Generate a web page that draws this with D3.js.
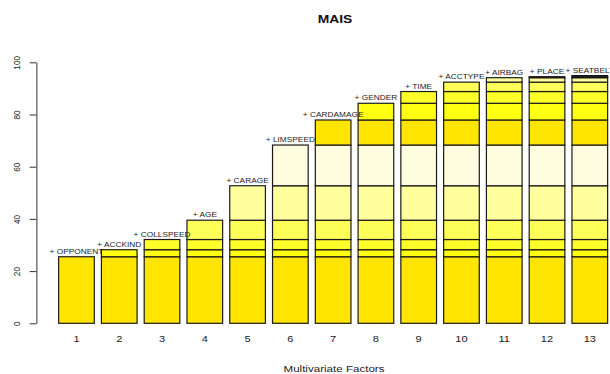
<!DOCTYPE html>
<html>
<head>
<meta charset="utf-8">
<script src="https://cdn.jsdelivr.net/npm/d3@7"></script>
<style>
  html, body { margin: 0; padding: 0; background: #fff; }
  svg { display: block; font-family: "Liberation Sans", Arial, sans-serif; }
</style>
</head>
<body>
<svg id="chart" width="610" height="374"></svg>
<script>
// ---- data ----
const categories = ["1","2","3","4","5","6","7","8","9","10","11","12","13"];
const factorNames = ["OPPONENT","ACCKIND","COLLSPEED","AGE","CARAGE","LIMSPEED","CARDAMAGE","GENDER","TIME","ACCTYPE","AIRBAG","PLACE","SEATBELT"];
const cumulativeValues = [25.5, 28.2, 32.1, 39.5, 52.7, 68.3, 77.9, 84.3, 88.8, 92.4, 94.1, 94.5, 94.9];
const yTicks = [0, 20, 40, 60, 80, 100];
const layerColors = ["#FFE500", "#FFFF12", "#FFFF2A", "#FFFF5A", "#FFFF9E", "#FFFDDF"];
const chartTitle = "MAIS";
const xTitle = "Multivariate Factors";

// ---- layout ----
const svg = d3.select("#chart");
const SX = 1.26; // horizontal text stretch of the reference
const x = d3.scaleLinear().domain([-0.424, 16.424]).range([36.4, 637]);
const y = d3.scaleLinear().domain([0, 100]).range([323.3, 62.3]);
const space = 0.2, barW = 1;
const barLeft = i => space + i * (barW + space);

// stacked segments
const segments = [];
categories.forEach((c, i) => {
  for (let j = 0; j <= i; j++) {
    segments.push({ bar: i, layer: j, y0: j === 0 ? 0 : cumulativeValues[j - 1], y1: cumulativeValues[j] });
  }
});

svg.append("g").selectAll("rect").data(segments).join("rect")
  .attr("x", d => x(barLeft(d.bar)))
  .attr("width", d => x(barLeft(d.bar) + barW) - x(barLeft(d.bar)))
  .attr("y", d => y(d.y1))
  .attr("height", d => y(d.y0) - y(d.y1))
  .attr("fill", d => layerColors[d.layer % layerColors.length])
  .attr("stroke", "#1a1a1a")
  .attr("stroke-width", 1.2);

// bar top labels
svg.append("g").selectAll("text").data(factorNames).join("text")
  .attr("transform", (d, i) => `translate(${x(barLeft(i) + barW / 2)},${y(cumulativeValues[i]) - 2.8}) scale(${SX},1)`)
  .attr("text-anchor", "middle")
  .attr("font-size", "6.6px")
  .attr("fill", "#222")
  .text(d => "+ " + d);

// y axis
const yAxis = svg.append("g")
  .attr("transform", `translate(${x(-0.424)},0)`)
  .call(d3.axisLeft(y).tickValues(yTicks).tickSize(6.7).tickSizeOuter(0).tickFormat(d3.format("d")));
yAxis.selectAll("path, line").attr("stroke", "#333").attr("stroke-width", 1);
yAxis.selectAll("text")
  .attr("x", null).attr("dy", null)
  .attr("transform", d => `translate(-20,${0}) scale(${SX * 0.92},1) rotate(-90)`)
  .attr("text-anchor", "middle")
  .attr("dominant-baseline", "central")
  .attr("font-size", "8.2px")
  .attr("font-family", "Liberation Sans, Arial, sans-serif")
  .attr("fill", "#222");

// x category labels (no axis line)
svg.append("g").selectAll("text").data(categories).join("text")
  .attr("transform", (d, i) => `translate(${x(barLeft(i) + barW / 2)},342.3) scale(${SX},1)`)
  .attr("text-anchor", "middle")
  .attr("font-size", "8.8px")
  .attr("fill", "#222")
  .text(d => d);

// titles
svg.append("text")
  .attr("transform", `translate(335,22.7) scale(${SX},1)`)
  .attr("text-anchor", "middle")
  .attr("font-size", "11px")
  .attr("font-weight", "bold")
  .attr("fill", "#111")
  .text(chartTitle);

svg.append("text")
  .attr("transform", `translate(334,371.5) scale(${SX},1)`)
  .attr("text-anchor", "middle")
  .attr("font-size", "9.2px")
  .attr("fill", "#222")
  .text(xTitle);
</script>
</body>
</html>
